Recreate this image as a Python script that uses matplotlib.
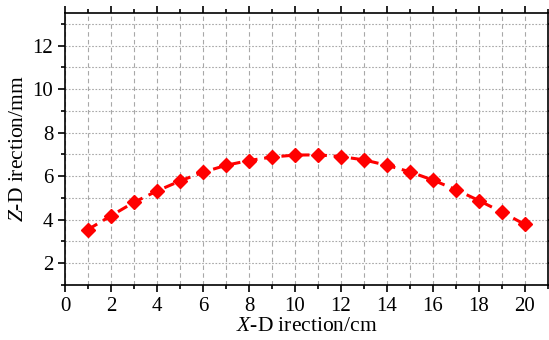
import matplotlib
matplotlib.use("Agg")
import matplotlib.pyplot as plt
from matplotlib.ticker import MultipleLocator

plt.rcParams['font.family'] = ['Liberation Serif', 'DejaVu Serif']
plt.rcParams['mathtext.fontset'] = 'custom'
plt.rcParams['mathtext.rm'] = 'Liberation Serif'
plt.rcParams['mathtext.it'] = 'Liberation Serif:italic'

x_cm = [1, 2, 3, 4, 5, 6, 7, 8, 9, 10, 11, 12, 13, 14, 15, 16, 17, 18, 19, 20]
z_mm = [3.55, 4.18, 4.80, 5.32, 5.78, 6.18, 6.50, 6.72, 6.88, 6.97,
        6.98, 6.90, 6.75, 6.50, 6.20, 5.82, 5.38, 4.88, 4.35, 3.78]

fig = plt.figure(figsize=(5.49, 3.40), dpi=100)
ax = fig.add_axes([0.1184, 0.1618, 0.8796, 0.8000])

ax.plot(x_cm, z_mm, color='#ff0000', linestyle=(0, (3.5, 2.2)), linewidth=2.2,
        marker='D', markersize=7.5, markeredgecolor='#ff0000', markerfacecolor='#ff0000')

ax.set_xlim(0, 21)
ax.set_ylim(1, 13.5)
ax.xaxis.set_major_locator(MultipleLocator(2))
ax.xaxis.set_minor_locator(MultipleLocator(1))
ax.yaxis.set_major_locator(MultipleLocator(2))
ax.yaxis.set_minor_locator(MultipleLocator(1))

ax.grid(True, which='both', axis='x', color='#a8a8a8', linestyle=(0, (4, 3)), linewidth=0.8)
ax.grid(True, which='both', axis='y', color='#a8a8a8', linestyle=(0, (1.5, 1.5)), linewidth=0.8)
ax.set_axisbelow(True)

ax.tick_params(which='both', direction='out', top=True, right=True, width=1.2, labelsize=15)
ax.tick_params(which='major', length=5)
ax.tick_params(which='minor', length=3)
for s in ax.spines.values():
    s.set_linewidth(1.2)

ax.set_xlabel(r'$\it{X}$-D irection/cm', fontsize=15.5, labelpad=1)
ax.set_ylabel(r'$\it{Z}$-D irection/mm', fontsize=15.5, labelpad=3)

fig.savefig('out.png', dpi=100)
